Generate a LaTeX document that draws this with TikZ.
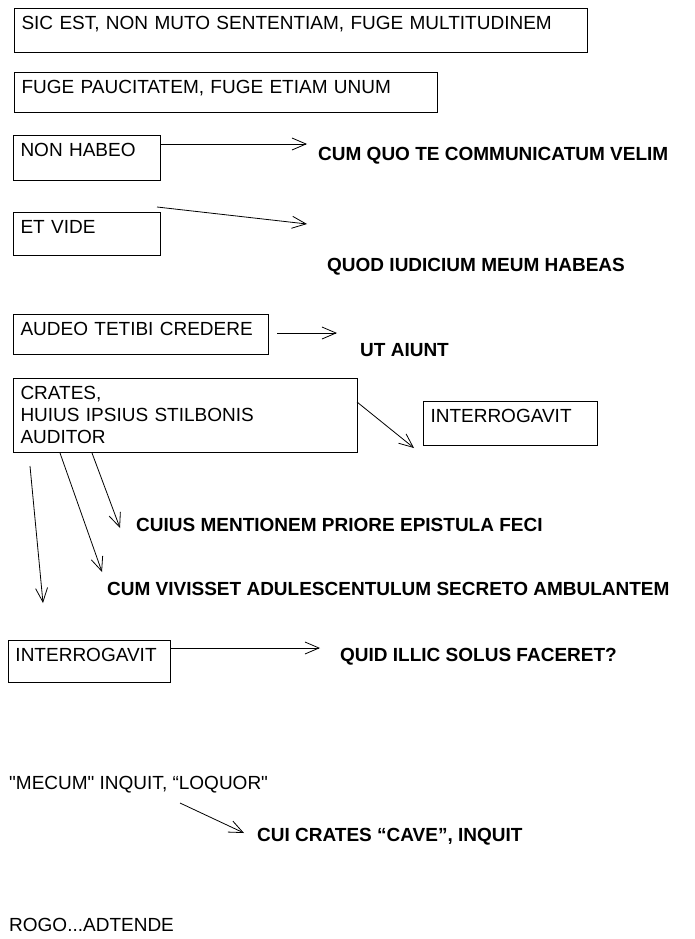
\documentclass[tikz,border=0pt]{standalone}
\usepackage{fontspec}
\setmainfont{Liberation Sans}
\usetikzlibrary{arrows.meta}

\tikzset{
  box/.style={draw=black,line width=1pt,anchor=north west,align=left,
    inner xsep=7pt,inner ysep=4pt,text height=17pt,
    font=\fontsize{19}{22}\selectfont},
  lbl/.style={anchor=west,inner sep=0pt,text height=13.6pt,text depth=0pt,
    font=\fontsize{19}{22}\selectfont\bfseries},
  txt/.style={lbl,font=\fontsize{19}{22}\selectfont},
  arr/.style={line width=0.8pt,-{Straight Barb[length=14pt,width=12pt]}}
}

\begin{document}
\begin{tikzpicture}[x=1pt,y=-1pt]
\useasboundingbox (0,0) rectangle (694,939);
% boxes:
\node[box,text width=559pt,text depth=19pt] (sic) at (14,8) {SIC EST, NON MUTO SENTENTIAM, FUGE MULTITUDINEM};
\node[box,text width=409pt,text depth=15pt] (fuge) at (14,72) {FUGE PAUCITATEM, FUGE ETIAM UNUM};
\node[box,text width=133pt,text depth=20pt] (nonhabeo) at (13,135) {NON HABEO};
\node[box,text width=133pt,text depth=18pt] (etvide) at (13,212) {ET VIDE};
\node[box,text width=241pt,text depth=15pt] (audeo) at (13,314) {AUDEO TETIBI CREDERE};
\node[box,text width=330pt,text depth=49pt] (crates) at (13,378) {CRATES,\\HUIUS IPSIUS STILBONIS\\AUDITOR};
\node[box,text width=160pt,text depth=19pt] (interrog1) at (423,401) {INTERROGAVIT};
\node[box,text width=148pt,text depth=17pt] (interrog2) at (8,640) {INTERROGAVIT};
% labels:
\node[lbl] (cumquo) at (318,154) {CUM QUO TE COMMUNICATUM VELIM};
\node[lbl] (quod) at (327,265) {QUOD IUDICIUM MEUM HABEAS};
\node[lbl] (utaiunt) at (360,350) {UT AIUNT};
\node[lbl] (cuius) at (136,525) {CUIUS MENTIONEM PRIORE EPISTULA FECI};
\node[lbl] (cumviv) at (107,589) {CUM VIVISSET ADULESCENTULUM SECRETO AMBULANTEM};
\node[lbl] (quid) at (340,655) {QUID ILLIC SOLUS FACERET?};
\node[txt] (mecum) at (9,783) {\textquotedbl MECUM\textquotedbl{} INQUIT, “LOQUOR\textquotedbl};
\node[lbl] (cui) at (257,835) {CUI CRATES “CAVE”, INQUIT};
\node[txt] (rogo) at (9,925) {ROGO...ADTENDE};
% arrows:
\draw[arr] ([yshift=-9pt]nonhabeo.north east) -- ([xshift=-11pt,yshift=10pt]cumquo.west);
\draw[arr] ([xshift=-4pt,yshift=5pt]etvide.north east) -- ([xshift=-20pt,yshift=41pt]quod.west);
\draw[arr] ([xshift=8pt,yshift=-19pt]audeo.north east) -- ([xshift=-23pt,yshift=17pt]utaiunt.west);
\draw[arr] ([xshift=-1pt,yshift=-24pt]crates.north east) -- ([xshift=-9pt,yshift=-2pt]interrog1.south west);
\draw[arr] ([xshift=79pt]crates.south west) -- ([xshift=-16pt,yshift=-3pt]cuius.west);
\draw[arr] ([xshift=47pt]crates.south west) -- ([xshift=-5pt,yshift=17pt]cumviv.west);
\draw[arr] ([xshift=17pt,yshift=-13pt]crates.south west) -- ([xshift=35pt,yshift=37pt]interrog2.north west);
\draw[arr] ([yshift=-8pt]interrog2.north east) -- ([xshift=-20pt,yshift=7pt]quid.west);
\draw[arr] ([xshift=171pt,yshift=-13pt]mecum.south west) -- ([xshift=-13pt,yshift=2pt]cui.west);
\end{tikzpicture}
\end{document}
